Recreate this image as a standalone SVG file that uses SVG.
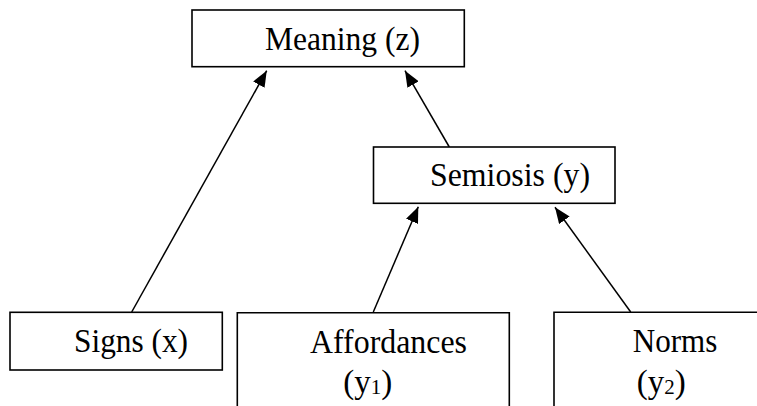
<svg xmlns="http://www.w3.org/2000/svg" width="757" height="406" viewBox="0 0 757 406">
<style>
.box{fill:#fff;stroke:#000;stroke-width:1.6}
.t{font-family:"Liberation Serif","Times New Roman",serif;font-size:33px;fill:#000}
.sub{font-size:21px}
.c{stroke:#000;stroke-width:1.5;fill:none}
</style>
<defs>
<marker id="ah" viewBox="0 0 16 13" refX="16" refY="6.5" markerWidth="16" markerHeight="13" markerUnits="userSpaceOnUse" orient="auto">
<path d="M0,0 L16,6.5 L0,13 z" fill="#000"/>
</marker>
</defs>
<rect width="757" height="406" fill="#fff"/>
<g id="connectors">
<line class="c" x1="131.7" y1="312" x2="266.7" y2="70.7" marker-end="url(#ah)"/>
<line class="c" x1="449.3" y1="147" x2="405" y2="70.7" marker-end="url(#ah)"/>
<line class="c" x1="373.3" y1="312" x2="418.3" y2="206.7" marker-end="url(#ah)"/>
<line class="c" x1="630.7" y1="312" x2="555" y2="207.3" marker-end="url(#ah)"/>
</g>
<g id="meaning">
<rect class="box" x="192" y="10" width="272.3" height="56.7"/>
<text class="t" x="265" y="50" textLength="155" lengthAdjust="spacingAndGlyphs">Meaning (z)</text>
</g>
<g id="semiosis">
<rect class="box" x="373.5" y="147" width="241.5" height="56.3"/>
<text class="t" x="430" y="186" textLength="160" lengthAdjust="spacingAndGlyphs">Semiosis (y)</text>
</g>
<g id="signs">
<rect class="box" x="10" y="312.3" width="212.3" height="57.7"/>
<text class="t" x="74" y="351.7" textLength="114" lengthAdjust="spacingAndGlyphs">Signs (x)</text>
</g>
<g id="affordances">
<path class="box" d="M237.3,407 V312.7 H509.3 V407"/>
<text class="t" x="310" y="353.3" textLength="157" lengthAdjust="spacingAndGlyphs">Affordances</text>
<text class="t" x="343.3" y="393.3">(y<tspan class="sub" dy="1">1</tspan><tspan dy="-1">)</tspan></text>
</g>
<g id="norms">
<path class="box" d="M554,407 V312.3 H758"/>
<text class="t" x="632.7" y="351.7" textLength="84.6" lengthAdjust="spacingAndGlyphs">Norms</text>
<text class="t" x="636.7" y="393.3">(y<tspan class="sub" dy="1">2</tspan><tspan dy="-1">)</tspan></text>
</g>
</svg>
